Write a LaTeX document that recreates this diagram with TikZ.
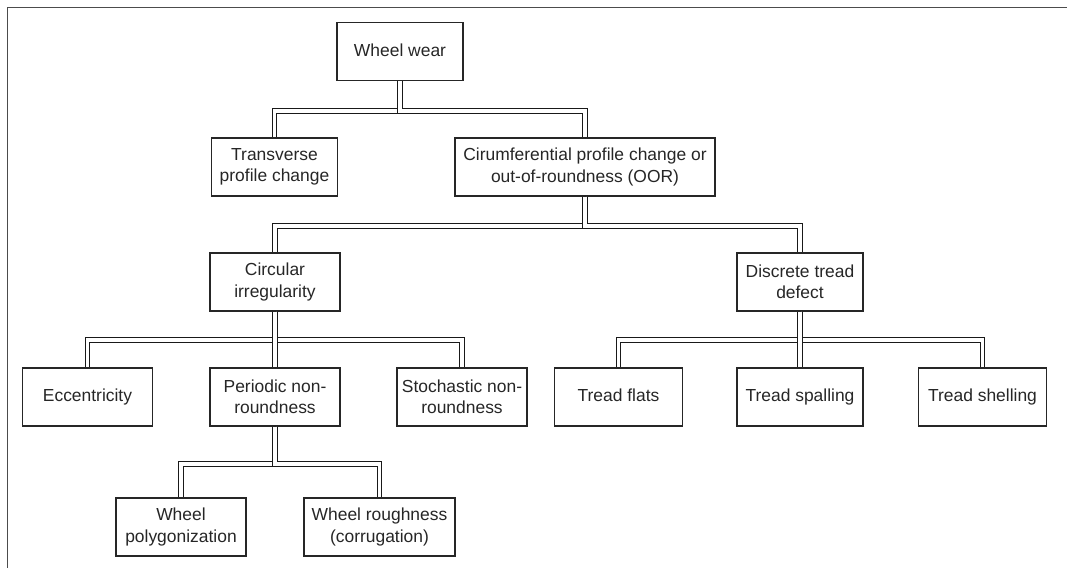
\documentclass[tikz,border=0pt]{standalone}
\usepackage{fontspec}
\setmainfont{Liberation Sans}
\usepackage{tikz}

\begin{document}
\begin{tikzpicture}[x=0.025cm, y=-0.025cm,
  category/.style ={rectangle, draw=black!85, line width=1pt, align=center,
    minimum width=3.2cm, minimum height=1.45cm, inner sep=1pt,
    font=\fontsize{12.4}{15.2}\selectfont, text=black!85},
  oneline/.style ={text height=8.9pt, text depth=2.2pt},
  link/.style ={draw=black!90, line width=0.8pt, double=white, double distance=2.6pt}]
 \useasboundingbox (0,0) rectangle (1067,568);
 \draw[black!70, line width=1.1pt] (1067,7.5) -- (7.5,7.5) -- (7.5,568);

 \node[category, oneline, minimum width=3.15cm] (W)  at (400,51.5)  {Wheel wear};
 \node[category, minimum width=3.15cm] (T)  at (274.5,167)  {Transverse\\profile change};
 \node[category, minimum width=6.5cm] (O)  at (585,167)  {Cirumferential profile change or\\out-of-roundness (OOR)};
 \node[category, minimum width=3.25cm] (C)  at (275,282)  {Circular\\irregularity};
 \node[category, minimum width=3.15cm] (D)  at (800,282)  {Discrete tread\\defect};
 \node[category, oneline, minimum width=3.25cm] (E)  at (87.5,397)  {Eccentricity};
 \node[category, minimum width=3.25cm] (P)  at (275,397)  {Periodic non-\\roundness};
 \node[category, minimum width=3.25cm] (S)  at (462,397)  {Stochastic non-\\roundness};
 \node[category, oneline] (F)  at (618.5,397)  {Tread flats};
 \node[category, oneline, minimum width=3.15cm] (G)  at (800,397)  {Tread spalling};
 \node[category, oneline] (H)  at (982.5,397)  {Tread shelling};
 \node[category, minimum width=3.25cm] (WP)  at (181,527)  {Wheel\\polygonization};
 \node[category, minimum width=3.78cm] (WR)  at (379.5,527)  {Wheel roughness\\(corrugation)};

 \draw[link] (W.south) -- ++(0,30) -| (T.north);
 \draw[link] (W.south) -- ++(0,30) -| (O.north);

 \draw[link] (O.south) -- ++(0,29) -| (C.north);
 \draw[link] (O.south) -- ++(0,29) -| (D.north);

 \draw[link] (C.south) -- ++(0,28) -| (E.north);
 \draw[link] (C.south) -- ++(0,28) -| (S.north);
 \draw[link] (C) -- (P);

 \draw[link] (D.south) -- ++(0,28) -| (F.north);
 \draw[link] (D.south) -- ++(0,28) -| (H.north);
 \draw[link] (D) -- (G);

 \draw[link] (P.south) -- ++(0,37) -| (WP.north);
 \draw[link] (P.south) -- ++(0,37) -| (WR.north);
\end{tikzpicture}
\end{document}
